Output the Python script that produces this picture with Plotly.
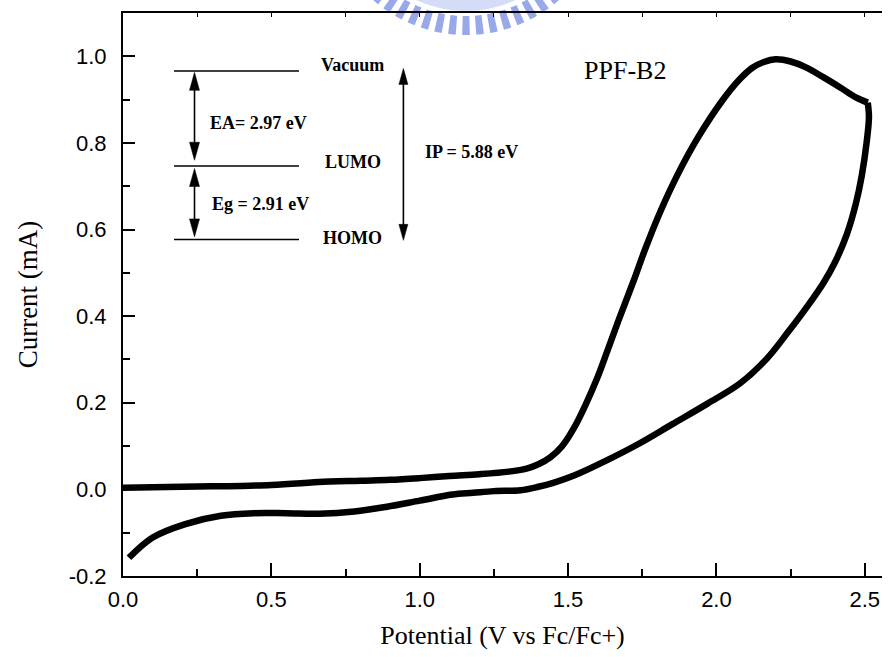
import math
import plotly.graph_objects as go

# Cyclic voltammogram of PPF-B2: forward (anodic) scan, then the reverse scan
fwd_v = [0.00, 0.10, 0.20, 0.30, 0.40, 0.50, 0.60, 0.66, 0.80, 0.90, 1.00, 1.10,
         1.20, 1.30, 1.36, 1.40, 1.44, 1.48, 1.52, 1.56, 1.60, 1.63, 1.67, 1.72,
         1.76, 1.81, 1.87, 1.94, 2.02, 2.08, 2.12, 2.16, 2.20, 2.25, 2.30, 2.36,
         2.42, 2.47, 2.51]
fwd_i = [0.004, 0.005, 0.006, 0.007, 0.008, 0.010, 0.014, 0.017, 0.020, 0.022, 0.026, 0.031,
         0.035, 0.041, 0.048, 0.058, 0.074, 0.100, 0.142, 0.197, 0.260, 0.315, 0.390, 0.480,
         0.555, 0.640, 0.728, 0.815, 0.898, 0.948, 0.973, 0.987, 0.993, 0.988, 0.975, 0.952,
         0.927, 0.905, 0.893]
rev_v = [2.510, 2.514, 2.506, 2.490, 2.470, 2.440, 2.400, 2.360, 2.310, 2.240, 2.170, 2.080,
         1.970, 1.850, 1.740, 1.630, 1.520, 1.450, 1.400, 1.340, 1.250, 1.180, 1.110,
         1.000, 0.890, 0.780, 0.660, 0.550, 0.440, 0.330, 0.210, 0.100, 0.020]
rev_i = [0.893, 0.860, 0.800, 0.725, 0.660, 0.590, 0.525, 0.476, 0.426, 0.362, 0.302, 0.245,
         0.198, 0.150, 0.106, 0.067, 0.032, 0.015, 0.006, -0.002, -0.004, -0.008, -0.012,
         -0.026, -0.040, -0.051, -0.056, -0.055, -0.055, -0.061, -0.080, -0.111, -0.158]

x_range = [0.0, 2.558]
y_range = [-0.2, 1.1]
y_ticks = [-0.2, 0.0, 0.2, 0.4, 0.6, 0.8, 1.0]
y_ticktext = [f"{v:.1f}" for v in y_ticks]

# Energy-level diagram (schematic)
level_names = ["Vacuum", "LUMO", "HOMO"]
level_y = [0.966, 0.747, 0.577]
level_x = [0.172, 0.593]
gap_labels = ["EA= 2.97 eV", "Eg = 2.91 eV"]
ip_label = "IP = 5.88 eV"

SERIF = "Liberation Serif, Times New Roman, serif"
SANS = "Liberation Sans, Arial, sans-serif"

fig = go.Figure()
for xs, ys in [(fwd_v, fwd_i), (rev_v, rev_i)]:
    fig.add_trace(go.Scatter(
        x=xs, y=ys, mode="lines",
        line=dict(color="black", width=6.5, shape="spline", smoothing=1.0),
        showlegend=False, hoverinfo="skip",
    ))
# carrier trace for the top (mirror) axis
fig.add_trace(go.Scatter(
    x=fwd_v, y=fwd_i, xaxis="x2", mode="lines", opacity=0,
    line=dict(width=0), showlegend=False, hoverinfo="skip",
))

L, R, T, B = 123, 7, 13, 81
W, H = 889, 657
pw, ph = W - L - R, H - T - B
ux = pw / (x_range[1] - x_range[0])   # px per volt
uy = ph / (y_range[1] - y_range[0])   # px per mA

shapes = []
# level lines
for y in level_y:
    shapes.append(dict(type="line", xref="x", yref="y", x0=level_x[0], x1=level_x[1],
                       y0=y, y1=y, line=dict(color="black", width=1.5)))


def double_arrow(x, y_top, y_bot, head_len=18, head_w=10):
    hl = head_len / uy
    hw = head_w / 2 / ux
    out = [dict(type="line", xref="x", yref="y", x0=x, x1=x, y0=y_top - hl * 0.5,
                y1=y_bot + hl * 0.5, line=dict(color="black", width=1.6))]
    out.append(dict(type="path", xref="x", yref="y",
                    path=f"M{x},{y_top} L{x - hw},{y_top - hl} L{x + hw},{y_top - hl} Z",
                    fillcolor="black", line=dict(color="black", width=0.5)))
    out.append(dict(type="path", xref="x", yref="y",
                    path=f"M{x},{y_bot} L{x - hw},{y_bot + hl} L{x + hw},{y_bot + hl} Z",
                    fillcolor="black", line=dict(color="black", width=0.5)))
    return out


shapes += double_arrow(0.241, level_y[0] - 0.003, level_y[1] + 0.013)
shapes += double_arrow(0.241, level_y[1] - 0.006, level_y[2] + 0.006)
shapes += double_arrow(0.945, level_y[0] + 0.006, level_y[2] - 0.002, head_len=16, head_w=9)


# faint institutional watermark along the top edge
def to_paper(px, py):
    return (px - L) / pw, 1 - (py - T) / ph


def ring_path(cxp, cyp, r0, r1, a0, a1, n=30):
    pts = []
    for k in range(n + 1):
        a = a0 + (a1 - a0) * k / n
        pts.append(to_paper(cxp + r1 * math.sin(a), cyp + r1 * math.cos(a)))
    for k in range(n + 1):
        a = a1 - (a1 - a0) * k / n
        pts.append(to_paper(cxp + r0 * math.sin(a), cyp + r0 * math.cos(a)))
    return "M" + " L".join(f"{p[0]:.5f},{p[1]:.5f}" for p in pts) + " Z"


cx, cy = 466, -106
wm_color = "rgba(112,134,224,0.72)"
shapes.append(dict(type="path", xref="paper", yref="paper",
                   path=ring_path(cx, cy, 104, 117, -0.75, 0.75),
                   fillcolor="rgba(178,192,242,0.55)", line=dict(width=0), layer="below"))
ang = -0.70
while ang <= 0.705:
    shapes.append(dict(type="path", xref="paper", yref="paper",
                       path=ring_path(cx, cy, 122, 141, ang - 0.027, ang + 0.027, n=3),
                       fillcolor=wm_color, line=dict(width=0), layer="below"))
    ang += 0.1

annotations = []
label_x = 0.775
for name, y, dy in zip(level_names, level_y, [0.014, 0.008, 0.003]):
    annotations.append(dict(x=label_x, y=y + dy, xref="x", yref="y", text=f"<b>{name}</b>",
                            showarrow=False, xanchor="center", yanchor="middle",
                            font=dict(family=SERIF, size=18, color="black")))
annotations.append(dict(x=0.285, y=0.845, xref="x", yref="y", text=f"<b>{gap_labels[0]}</b>",
                        showarrow=False, xanchor="left", yanchor="middle",
                        font=dict(family=SERIF, size=18, color="black")))
annotations.append(dict(x=0.292, y=0.659, xref="x", yref="y", text=f"<b>{gap_labels[1]}</b>",
                        showarrow=False, xanchor="left", yanchor="middle",
                        font=dict(family=SERIF, size=18, color="black")))
annotations.append(dict(x=1.010, y=0.780, xref="x", yref="y", text=f"<b>{ip_label}</b>",
                        showarrow=False, xanchor="left", yanchor="middle",
                        font=dict(family=SERIF, size=18, color="black")))
annotations.append(dict(x=1.548, y=0.968, xref="x", yref="y", text="PPF-B2",
                        showarrow=False, xanchor="left", yanchor="middle",
                        font=dict(family=SERIF, size=26, color="black")))

fig.update_layout(
    width=W, height=H,
    margin=dict(l=L, r=R, t=T, b=B, pad=0),
    paper_bgcolor="white", plot_bgcolor="white",
    showlegend=False,
    shapes=shapes,
    annotations=annotations,
    xaxis=dict(
        range=x_range, tickmode="linear", tick0=0, dtick=0.5, tickformat=".1f",
        ticks="inside", ticklen=13, tickwidth=1.5, tickcolor="black",
        minor=dict(tickmode="linear", tick0=0, dtick=0.25, ticks="inside",
                   ticklen=7, tickwidth=1.5, tickcolor="black"),
        showline=True, linewidth=2, linecolor="black", mirror=False,
        showgrid=False, zeroline=False, ticklabelstandoff=3,
        tickfont=dict(family=SANS, size=22, color="black"),
        title=dict(text="Potential (V vs Fc/Fc+)", standoff=14,
                   font=dict(family=SERIF, size=26, color="black")),
        automargin=False,
    ),
    xaxis2=dict(
        range=x_range, overlaying="x", side="top", anchor="y",
        tickmode="linear", tick0=0, dtick=0.25, ticks="inside", ticklen=4,
        tickwidth=1.2, tickcolor="black", showticklabels=False,
        showline=True, linewidth=2, linecolor="black",
        showgrid=False, zeroline=False,
    ),
    yaxis=dict(
        range=y_range, tickmode="array", tickvals=y_ticks, ticktext=y_ticktext,
        ticks="inside", ticklen=12, tickwidth=1.5, tickcolor="black",
        minor=dict(tickmode="linear", tick0=-0.2, dtick=0.1, ticks="inside",
                   ticklen=7, tickwidth=1.5, tickcolor="black"),
        showline=True, linewidth=2, linecolor="black", mirror=False,
        showgrid=False, zeroline=False, ticklabelstandoff=10,
        tickfont=dict(family=SANS, size=22, color="black"),
        title=dict(text="Current (mA)", standoff=23,
                   font=dict(family=SERIF, size=27, color="black")),
        automargin=False,
    ),
)

fig.write_html("out.html")
